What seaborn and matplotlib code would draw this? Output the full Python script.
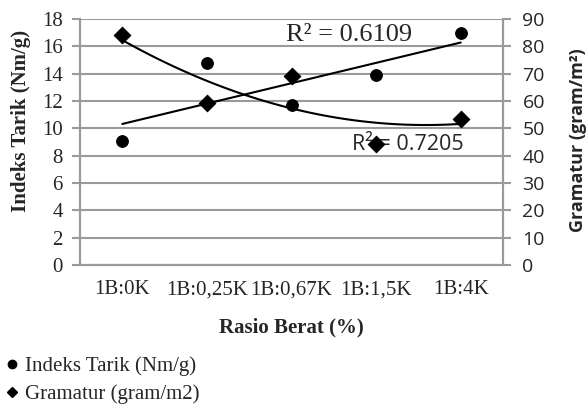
import numpy as np
import pandas as pd
import matplotlib
matplotlib.use("Agg")
import matplotlib.pyplot as plt
from matplotlib.lines import Line2D
import seaborn as sns

categories = ["1B:0K", "1B:0,25K", "1B:0,67K", "1B:1,5K", "1B:4K"]
indeks_tarik = [9.1, 14.8, 11.7, 13.9, 17.0]      # Nm/g, left axis
gramatur = [84.3, 59.4, 69.0, 44.4, 53.5]         # gram/m2, right axis
r2_tarik = "R² = 0.6109"
r2_gramatur = "R² = 0.7205"

sns.set_style("white")
serif = ["Liberation Serif", "DejaVu Serif"]
sans = ["Open Sans", "DejaVu Sans"]
plt.rcParams["font.family"] = serif

grid_col = "#9a9a9a"

df = pd.DataFrame({"x": np.arange(len(categories)), "tarik": indeks_tarik, "gram": gramatur})

fig = plt.figure(figsize=(5.87, 4.08), dpi=100)
ax = fig.add_axes([80 / 587, 1 - 265 / 408, 423 / 587, 246 / 408])
ax2 = ax.twinx()

# trendlines (linear for tensile index, 2nd order poly for grammage)
xs = np.linspace(0, len(categories) - 1, 100)
p1 = np.polyfit(df["x"], df["tarik"], 1)
p2 = np.polyfit(df["x"], df["gram"], 2)
ax.plot(xs, np.polyval(p1, xs), color="black", lw=1.5, zorder=3)
ax2.plot(xs, np.polyval(p2, xs), color="black", lw=1.5, zorder=3)

sns.scatterplot(data=df, x="x", y="tarik", ax=ax, marker="o", s=72, color="black",
                edgecolor="black", zorder=4, legend=False)
sns.scatterplot(data=df, x="x", y="gram", ax=ax2, marker="D", s=72, color="black",
                edgecolor="black", zorder=4, legend=False)

ax.set_xlim(-0.5, len(categories) - 0.5)
ax.set_ylim(0, 18)
ax2.set_ylim(0, 90)
ax.set_yticks(np.arange(0, 19, 2))
ax2.set_yticks(np.arange(0, 91, 10))
ax.set_xticks(np.arange(len(categories)))
ax.set_xticklabels(categories)
ax.set_xticks(np.arange(-0.5, len(categories)), minor=True)
ax.tick_params(axis="x", which="major", length=0, pad=11, labelsize=15)
ax.tick_params(axis="x", which="minor", length=5.5, width=1.5, color=grid_col, direction="out")
ax.tick_params(axis="y", length=5.5, width=1.5, color=grid_col, direction="out",
               labelsize=15, pad=7)
ax2.tick_params(axis="y", length=5.5, width=1.5, color=grid_col, direction="out",
                labelsize=14, pad=8.5)
for lab in ax2.get_yticklabels():
    lab.set_family(sans)

ax.grid(axis="y", color=grid_col, lw=1.5)
ax.set_axisbelow(True)
for a in (ax, ax2):
    a.spines["top"].set_visible(False)
    for s in ("left", "right", "bottom"):
        a.spines[s].set_color(grid_col)
        a.spines[s].set_linewidth(1.5)
ax.set_xlabel("")
ax.set_ylabel("")
ax2.set_ylabel("")

fig.text(291 / 587, 1 - 327 / 408, "Rasio Berat (%)", fontsize=15, fontweight="bold",
         ha="center", va="center")
fig.text(21 / 587, 1 - 121 / 408, "Indeks Tarik (Nm/g)", fontsize=15, fontweight="bold",
         rotation=90, ha="center", va="center")
fig.text(578 / 587, 1 - 140 / 408, "Gramatur (gram/m²)", fontsize=13, fontweight="bold",
         family=sans, rotation=90, ha="center", va="center")

ax.text(2.68, 16.8, r2_tarik, fontsize=19, ha="center", va="center", zorder=5)
ax.text(3.38, 8.8, r2_gramatur, fontsize=15.5, ha="center", va="center", family=sans, zorder=5)

handles = [Line2D([], [], ls="", marker="o", color="black", ms=6),
           Line2D([], [], ls="", marker="D", color="black", ms=5.5)]
fig.legend(handles, ["Indeks Tarik (Nm/g)", "Gramatur (gram/m2)"], loc="lower left",
           bbox_to_anchor=(0.005, 0.0), frameon=False, fontsize=15, handlelength=0.5,
           handletextpad=0.35, labelspacing=0.38, borderaxespad=0.0, borderpad=0.2)

fig.savefig("out.png", dpi=100)
